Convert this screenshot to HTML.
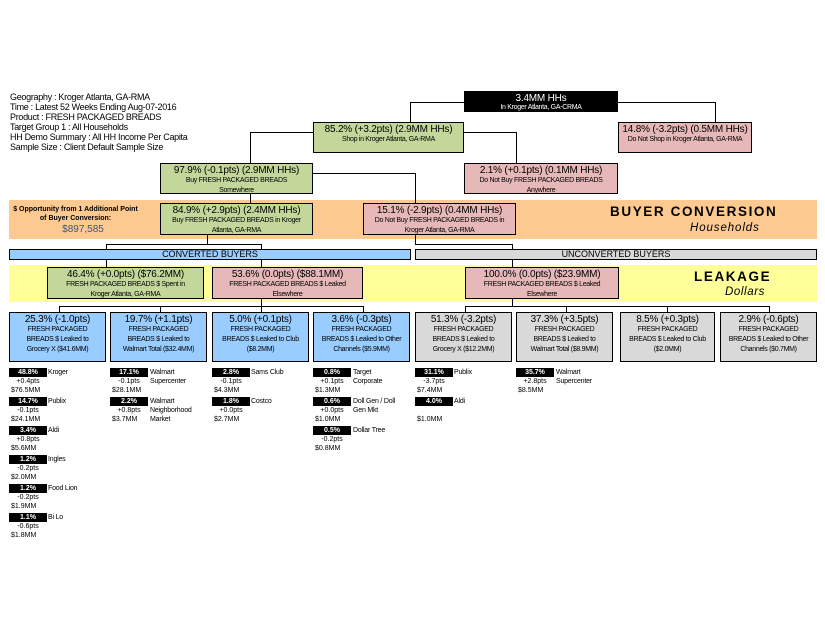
<!DOCTYPE html>
<html><head><meta charset="utf-8"><style>
body{margin:0;width:825px;height:638px;background:#fff;position:relative;overflow:hidden;font-family:"Liberation Sans",sans-serif;color:#000}
div{position:absolute;box-sizing:border-box}
.b div{position:static}
.b{border:1px solid #000;text-align:center;line-height:1}
.t{font-size:10px;margin-top:2px;letter-spacing:-0.2px;white-space:nowrap}
.s{font-size:7px;line-height:10px;letter-spacing:-0.3px;white-space:nowrap}
.g{background:#c4d79b}.p{background:#e6b8b7}.bl{background:#99ccff}.gr{background:#d9d9d9}
.h{height:1px;background:#000}.v{width:1px;background:#000}
.hd{font-size:9px;left:10px;letter-spacing:-0.3px}
.k{background:#000;color:#fff;font-size:7px;font-weight:bold;text-align:center;width:38px;height:9px;line-height:9px}
.n{font-size:7px;line-height:9px;letter-spacing:-0.2px;white-space:nowrap}
.m{font-size:7px;line-height:9px;text-align:center;width:38px}
.d{font-size:7px;line-height:9px;padding-left:2px}
</style></head><body>
<div class="hd" style="top:92px">Geography : Kroger Atlanta, GA-RMA</div>
<div class="hd" style="top:102px">Time : Latest 52 Weeks Ending Aug-07-2016</div>
<div class="hd" style="top:112px">Product : FRESH PACKAGED BREADS</div>
<div class="hd" style="top:122px">Target Group 1 : All Households</div>
<div class="hd" style="top:132px">HH Demo Summary : All HH Income Per Capita</div>
<div class="hd" style="top:142px">Sample Size : Client Default Sample Size</div>

<div style="left:9px;top:200px;width:808px;height:39px;background:#fcc990"></div>
<div style="left:9px;top:265px;width:808px;height:37px;background:#ffff99"></div>

<div class="h" style="left:410px;top:102px;width:54px"></div>
<div class="v" style="left:410px;top:102px;height:20px"></div>
<div class="h" style="left:618px;top:102px;width:97px"></div>
<div class="v" style="left:715px;top:102px;height:20px"></div>
<div class="h" style="left:250px;top:132px;width:63px"></div>
<div class="v" style="left:250px;top:132px;height:31px"></div>
<div class="h" style="left:464px;top:132px;width:52px"></div>
<div class="v" style="left:516px;top:132px;height:31px"></div>
<div class="v" style="left:250px;top:194px;height:9px"></div>
<div class="h" style="left:313px;top:173px;width:102px"></div>
<div class="v" style="left:415px;top:173px;height:30px"></div>
<div class="v" style="left:207px;top:235px;height:9px"></div>
<div class="h" style="left:106px;top:244px;width:156px"></div>
<div class="v" style="left:106px;top:244px;height:23px"></div>
<div class="v" style="left:261px;top:244px;height:23px"></div>
<div class="v" style="left:415px;top:235px;height:9px"></div>
<div class="h" style="left:415px;top:244px;width:98px"></div>
<div class="v" style="left:512px;top:244px;height:23px"></div>
<div class="v" style="left:261px;top:299px;height:7px"></div>
<div class="h" style="left:59px;top:306px;width:305px"></div>
<div class="v" style="left:59px;top:306px;height:6px"></div>
<div class="v" style="left:160px;top:306px;height:6px"></div>
<div class="v" style="left:261px;top:306px;height:6px"></div>
<div class="v" style="left:363px;top:306px;height:6px"></div>
<div class="v" style="left:512px;top:299px;height:7px"></div>
<div class="h" style="left:465px;top:306px;width:305px"></div>
<div class="v" style="left:465px;top:306px;height:6px"></div>
<div class="v" style="left:566px;top:306px;height:6px"></div>
<div class="v" style="left:667px;top:306px;height:6px"></div>
<div class="v" style="left:769px;top:306px;height:6px"></div>

<div class="b" style="left:464px;top:91px;width:154px;height:21px;background:#000;color:#fff"><div class="t" style="margin-top:2px">3.4MM HHs</div><div class="s" style="line-height:8px">In Kroger Atlanta, GA-CRMA</div></div>
<div class="b g" style="left:313px;top:122px;width:151px;height:31px"><div class="t">85.2% (+3.2pts) (2.9MM HHs)</div><div class="s">Shop in Kroger Atlanta, GA-RMA</div></div>
<div class="b p" style="left:618px;top:122px;width:134px;height:31px"><div class="t">14.8% (-3.2pts) (0.5MM HHs)</div><div class="s">Do Not Shop in Kroger Atlanta, GA-RMA</div></div>
<div class="b g" style="left:160px;top:163px;width:153px;height:31px"><div class="t">97.9% (-0.1pts) (2.9MM HHs)</div><div class="s">Buy FRESH PACKAGED BREADS<br>Somewhere</div></div>
<div class="b p" style="left:464px;top:163px;width:154px;height:31px"><div class="t">2.1% (+0.1pts) (0.1MM HHs)</div><div class="s">Do Not Buy FRESH PACKAGED BREADS<br>Anywhere</div></div>
<div class="b g" style="left:160px;top:203px;width:153px;height:32px"><div class="t">84.9% (+2.9pts) (2.4MM HHs)</div><div class="s">Buy FRESH PACKAGED BREADS in Kroger<br>Atlanta, GA-RMA</div></div>
<div class="b p" style="left:363px;top:203px;width:153px;height:32px"><div class="t">15.1% (-2.9pts) (0.4MM HHs)</div><div class="s">Do Not Buy FRESH PACKAGED BREADS in<br>Kroger Atlanta, GA-RMA</div></div>

<div style="left:13px;top:205px;width:125px;text-align:center;font-size:7px;font-weight:bold;line-height:9px;white-space:nowrap">$ Opportunity from 1 Additional Point<br>of Buyer Conversion:</div>
<div style="left:28px;top:224px;width:110px;text-align:center;font-size:10px;color:#44547a">$897,585</div>
<div style="left:610px;top:204px;font-size:13.5px;font-weight:bold;letter-spacing:1.6px;white-space:nowrap">BUYER CONVERSION</div>
<div style="left:690px;top:222px;font-size:11.5px;font-style:italic;letter-spacing:0.9px">Households</div>
<div style="left:694px;top:269px;font-size:13.5px;font-weight:bold;letter-spacing:1.6px">LEAKAGE</div>
<div style="left:725px;top:286px;font-size:11.5px;font-style:italic;letter-spacing:0.6px">Dollars</div>

<div class="b bl" style="left:9px;top:249px;width:402px;height:11px;font-size:9px;line-height:9px">CONVERTED BUYERS</div>
<div class="b gr" style="left:415px;top:249px;width:402px;height:11px;font-size:9px;line-height:9px">UNCONVERTED BUYERS</div>

<div class="b g" style="left:47px;top:267px;width:157px;height:32px"><div class="t">46.4% (+0.0pts) ($76.2MM)</div><div class="s">FRESH PACKAGED BREADS $ Spent in<br>Kroger Atlanta, GA-RMA</div></div>
<div class="b p" style="left:212px;top:267px;width:151px;height:32px"><div class="t">53.6% (0.0pts) ($88.1MM)</div><div class="s">FRESH PACKAGED BREADS $ Leaked<br>Elsewhere</div></div>
<div class="b p" style="left:465px;top:267px;width:154px;height:32px"><div class="t">100.0% (0.0pts) ($23.9MM)</div><div class="s">FRESH PACKAGED BREADS $ Leaked<br>Elsewhere</div></div>

<div class="b bl" style="left:9px;top:312px;width:97px;height:50px"><div class="t">25.3% (-1.0pts)</div><div class="s">FRESH PACKAGED<br>BREADS $ Leaked to<br>Grocery X ($41.6MM)</div></div>
<div class="b bl" style="left:110px;top:312px;width:97px;height:50px"><div class="t">19.7% (+1.1pts)</div><div class="s">FRESH PACKAGED<br>BREADS $ Leaked to<br>Walmart Total ($32.4MM)</div></div>
<div class="b bl" style="left:212px;top:312px;width:97px;height:50px"><div class="t">5.0% (+0.1pts)</div><div class="s">FRESH PACKAGED<br>BREADS $ Leaked to Club<br>($8.2MM)</div></div>
<div class="b bl" style="left:313px;top:312px;width:97px;height:50px"><div class="t">3.6% (-0.3pts)</div><div class="s">FRESH PACKAGED<br>BREADS $ Leaked to Other<br>Channels ($5.9MM)</div></div>
<div class="b gr" style="left:415px;top:312px;width:97px;height:50px"><div class="t">51.3% (-3.2pts)</div><div class="s">FRESH PACKAGED<br>BREADS $ Leaked to<br>Grocery X ($12.2MM)</div></div>
<div class="b gr" style="left:516px;top:312px;width:97px;height:50px"><div class="t">37.3% (+3.5pts)</div><div class="s">FRESH PACKAGED<br>BREADS $ Leaked to<br>Walmart Total ($8.9MM)</div></div>
<div class="b gr" style="left:620px;top:312px;width:95px;height:50px"><div class="t">8.5% (+0.3pts)</div><div class="s">FRESH PACKAGED<br>BREADS $ Leaked to Club<br>($2.0MM)</div></div>
<div class="b gr" style="left:720px;top:312px;width:97px;height:50px"><div class="t">2.9% (-0.6pts)</div><div class="s">FRESH PACKAGED<br>BREADS $ Leaked to Other<br>Channels ($0.7MM)</div></div>

<div class="k" style="left:9px;top:368px">48.8%</div><div class="n" style="left:48px;top:368px">Kroger</div><div class="m" style="left:9px;top:377px">+0.4pts</div><div class="d" style="left:9px;top:386px">$76.5MM</div>
<div class="k" style="left:9px;top:397px">14.7%</div><div class="n" style="left:48px;top:397px">Publix</div><div class="m" style="left:9px;top:406px">-0.1pts</div><div class="d" style="left:9px;top:415px">$24.1MM</div>
<div class="k" style="left:9px;top:426px">3.4%</div><div class="n" style="left:48px;top:426px">Aldi</div><div class="m" style="left:9px;top:435px">+0.8pts</div><div class="d" style="left:9px;top:444px">$5.6MM</div>
<div class="k" style="left:9px;top:455px">1.2%</div><div class="n" style="left:48px;top:455px">Ingles</div><div class="m" style="left:9px;top:464px">-0.2pts</div><div class="d" style="left:9px;top:473px">$2.0MM</div>
<div class="k" style="left:9px;top:484px">1.2%</div><div class="n" style="left:48px;top:484px">Food Lion</div><div class="m" style="left:9px;top:493px">-0.2pts</div><div class="d" style="left:9px;top:502px">$1.9MM</div>
<div class="k" style="left:9px;top:513px">1.1%</div><div class="n" style="left:48px;top:513px">Bi Lo</div><div class="m" style="left:9px;top:522px">-0.6pts</div><div class="d" style="left:9px;top:531px">$1.8MM</div>
<div class="k" style="left:110px;top:368px">17.1%</div><div class="n" style="left:150px;top:368px">Walmart<br>Supercenter</div><div class="m" style="left:110px;top:377px">-0.1pts</div><div class="d" style="left:110px;top:386px">$28.1MM</div>
<div class="k" style="left:110px;top:397px">2.2%</div><div class="n" style="left:150px;top:397px">Walmart<br>Neighborhood<br>Market</div><div class="m" style="left:110px;top:406px">+0.8pts</div><div class="d" style="left:110px;top:415px">$3.7MM</div>
<div class="k" style="left:212px;top:368px">2.8%</div><div class="n" style="left:251px;top:368px">Sams Club</div><div class="m" style="left:212px;top:377px">-0.1pts</div><div class="d" style="left:212px;top:386px">$4.3MM</div>
<div class="k" style="left:212px;top:397px">1.8%</div><div class="n" style="left:251px;top:397px">Costco</div><div class="m" style="left:212px;top:406px">+0.0pts</div><div class="d" style="left:212px;top:415px">$2.7MM</div>
<div class="k" style="left:313px;top:368px">0.8%</div><div class="n" style="left:353px;top:368px">Target<br>Corporate</div><div class="m" style="left:313px;top:377px">+0.1pts</div><div class="d" style="left:313px;top:386px">$1.3MM</div>
<div class="k" style="left:313px;top:397px">0.6%</div><div class="n" style="left:353px;top:397px">Doll Gen / Doll<br>Gen Mkt</div><div class="m" style="left:313px;top:406px">+0.0pts</div><div class="d" style="left:313px;top:415px">$1.0MM</div>
<div class="k" style="left:313px;top:426px">0.5%</div><div class="n" style="left:353px;top:426px">Dollar Tree</div><div class="m" style="left:313px;top:435px">-0.2pts</div><div class="d" style="left:313px;top:444px">$0.8MM</div>
<div class="k" style="left:415px;top:368px">31.1%</div><div class="n" style="left:454px;top:368px">Publix</div><div class="m" style="left:415px;top:377px">-3.7pts</div><div class="d" style="left:415px;top:386px">$7.4MM</div>
<div class="k" style="left:415px;top:397px">4.0%</div><div class="n" style="left:454px;top:397px">Aldi</div><div class="d" style="left:415px;top:415px">$1.0MM</div>
<div class="k" style="left:516px;top:368px">35.7%</div><div class="n" style="left:556px;top:368px">Walmart<br>Supercenter</div><div class="m" style="left:516px;top:377px">+2.8pts</div><div class="d" style="left:516px;top:386px">$8.5MM</div>
</body></html>
